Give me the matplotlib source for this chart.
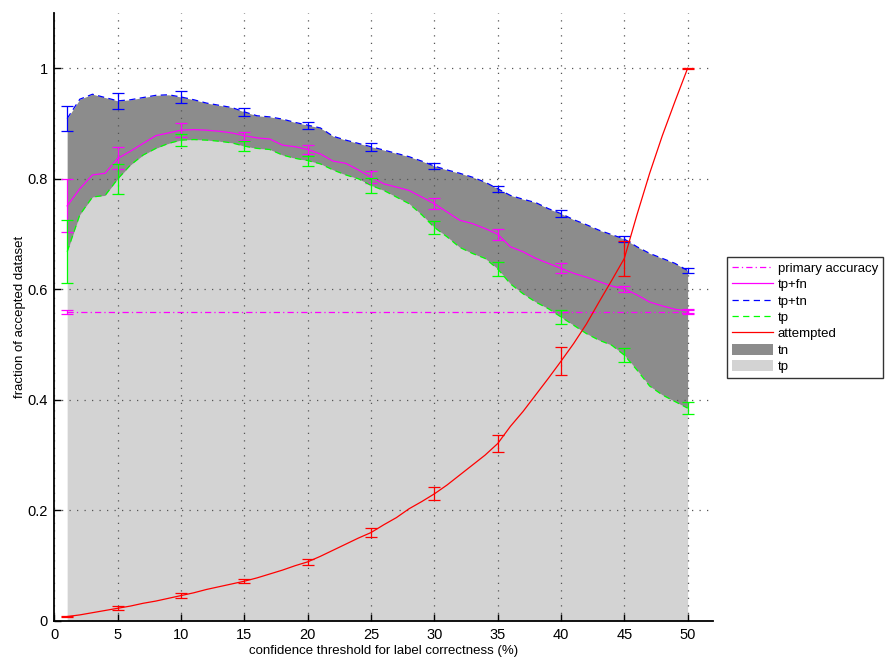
import numpy as np
import matplotlib
matplotlib.use("Agg")
import matplotlib.pyplot as plt
from matplotlib.lines import Line2D
from matplotlib.patches import Patch

plt.rcParams['font.family'] = ['Liberation Sans', 'DejaVu Sans']

# confidence threshold (%)
thresholds = np.arange(1, 51)

# tp+tn : upper edge of the tn band
tp_tn = [0.909, 0.944, 0.953, 0.947, 0.941, 0.943, 0.947, 0.951, 0.952, 0.948,
         0.943, 0.937, 0.933, 0.929, 0.921, 0.914, 0.912, 0.908, 0.902, 0.897,
         0.892, 0.877, 0.870, 0.864, 0.858, 0.852, 0.846, 0.840, 0.832, 0.823,
         0.816, 0.810, 0.803, 0.794, 0.782, 0.770, 0.763, 0.757, 0.746, 0.737,
         0.726, 0.717, 0.707, 0.699, 0.691, 0.677, 0.665, 0.656, 0.647, 0.634]

# tp : upper edge of the tp band
tp = [0.668, 0.735, 0.767, 0.770, 0.800, 0.825, 0.843, 0.855, 0.864, 0.870,
      0.871, 0.870, 0.868, 0.865, 0.859, 0.855, 0.853, 0.843, 0.837, 0.833,
      0.827, 0.816, 0.807, 0.800, 0.788, 0.779, 0.767, 0.755, 0.735, 0.712,
      0.695, 0.676, 0.665, 0.656, 0.637, 0.610, 0.592, 0.577, 0.565, 0.550,
      0.535, 0.520, 0.508, 0.499, 0.481, 0.454, 0.425, 0.409, 0.397, 0.385]

# tp+fn
tp_fn = [0.751, 0.782, 0.807, 0.810, 0.837, 0.850, 0.864, 0.878, 0.883, 0.888,
         0.889, 0.888, 0.886, 0.883, 0.878, 0.874, 0.872, 0.861, 0.858, 0.853,
         0.845, 0.832, 0.828, 0.816, 0.803, 0.791, 0.785, 0.779, 0.767, 0.755,
         0.740, 0.725, 0.719, 0.710, 0.700, 0.677, 0.668, 0.656, 0.647, 0.638,
         0.629, 0.622, 0.614, 0.606, 0.601, 0.590, 0.577, 0.570, 0.564, 0.561]

# fraction attempted
attempted = [0.008, 0.011, 0.015, 0.019, 0.023, 0.027, 0.032, 0.036, 0.041, 0.046,
             0.051, 0.057, 0.062, 0.067, 0.072, 0.078, 0.085, 0.092, 0.100, 0.107,
             0.117, 0.128, 0.139, 0.150, 0.160, 0.174, 0.187, 0.203, 0.216, 0.230,
             0.246, 0.264, 0.282, 0.300, 0.321, 0.352, 0.379, 0.409, 0.439, 0.470,
             0.502, 0.537, 0.577, 0.616, 0.656, 0.735, 0.810, 0.878, 0.940, 1.000]

primary_accuracy = 0.559
primary_err = 0.003

# error bars are drawn at these thresholds
err_x = [1, 5, 10, 15, 20, 25, 30, 35, 40, 45, 50]
err_tp_tn = [0.022, 0.014, 0.011, 0.007, 0.006, 0.0075, 0.006, 0.005, 0.007, 0.005, 0.004]
err_tp_fn = [0.048, 0.020, 0.013, 0.0075, 0.0075, 0.011, 0.010, 0.010, 0.009, 0.005, 0.004]
err_tp = [0.057, 0.027, 0.011, 0.009, 0.009, 0.0135, 0.011, 0.013, 0.0135, 0.0125, 0.011]
err_attempted = [0.001, 0.004, 0.0045, 0.004, 0.005, 0.0075, 0.012, 0.015, 0.025, 0.031, 0.001]

x_ticks = [0, 5, 10, 15, 20, 25, 30, 35, 40, 45, 50]
y_ticks = [0, 0.2, 0.4, 0.6, 0.8, 1.0]
y_tick_labels = ['0', '0.2', '0.4', '0.6', '0.8', '1']

MAGENTA = '#ff00ff'
BLUE = '#0000ff'
GREEN = '#00ff00'
RED = '#ff0000'
DARK = '#8c8c8c'
LIGHT = '#d3d3d3'

fig = plt.figure(figsize=(8.86, 6.59), dpi=100)
ax = fig.add_axes([0.0615, 0.0577, 0.7432, 0.9226])

x = thresholds
tp_a = np.array(tp)
tp_tn_a = np.array(tp_tn)

ax.fill_between(x, 0, tp_a, color=LIGHT, lw=0, zorder=1)
ax.fill_between(x, tp_a, tp_tn_a, color=DARK, lw=0, zorder=1)

# grid on top of the filled bands
ax.set_axisbelow(False)
ax.grid(True, linestyle=(0, (1, 5)), color='#555555', linewidth=0.9, zorder=2)
for gl in ax.get_xgridlines() + ax.get_ygridlines():
    gl.set_zorder(2)

lw = 0.9
dash = (0, (5, 3.5))
dashdot = (0, (5, 2.5, 1, 2.5))

idx = [xi - 1 for xi in err_x]


def vals_at(series):
    return [series[i] for i in idx]


ax.plot(x, np.full(len(x), primary_accuracy), color=MAGENTA, lw=lw, linestyle=dashdot, zorder=3)
ax.errorbar([1, 50], [primary_accuracy] * 2, yerr=primary_err, fmt='none', ecolor=MAGENTA,
            elinewidth=lw, capsize=4.5, capthick=lw, zorder=3)

ax.plot(x, tp_fn, color=MAGENTA, lw=lw, zorder=4)
ax.errorbar(err_x, vals_at(tp_fn), yerr=err_tp_fn, fmt='none', ecolor=MAGENTA,
            elinewidth=lw, capsize=4.5, capthick=lw, zorder=4)

ax.plot(x, tp_tn, color=BLUE, lw=lw, linestyle=dash, zorder=4)
ax.errorbar(err_x, vals_at(tp_tn), yerr=err_tp_tn, fmt='none', ecolor=BLUE,
            elinewidth=lw, capsize=4.5, capthick=lw, zorder=4)

ax.plot(x, tp, color=GREEN, lw=lw, linestyle=dash, zorder=4)
ax.errorbar(err_x, vals_at(tp), yerr=err_tp, fmt='none', ecolor=GREEN,
            elinewidth=lw, capsize=4.5, capthick=lw, zorder=4)

ax.plot(x, attempted, color=RED, lw=lw, zorder=5)
ax.errorbar(err_x, vals_at(attempted), yerr=err_attempted, fmt='none', ecolor=RED,
            elinewidth=lw, capsize=4.5, capthick=lw, zorder=5)

ax.set_xlim(0, 52)
ax.set_ylim(0, 1.1)
ax.set_xticks(x_ticks)
ax.set_yticks(y_ticks)
ax.set_yticklabels(y_tick_labels)
ax.tick_params(direction='in', length=5, width=1, labelsize=10.5, colors='black', pad=5)

for side in ('top', 'right'):
    ax.spines[side].set_visible(False)
for side in ('left', 'bottom'):
    ax.spines[side].set_linewidth(1.3)
    ax.spines[side].set_color('black')
    ax.spines[side].set_zorder(6)

ax.set_xlabel('confidence threshold for label correctness (%)', fontsize=9.5, labelpad=2)
ax.set_ylabel('fraction of accepted dataset', fontsize=9.5, labelpad=1)

handles = [
    Line2D([], [], color=MAGENTA, lw=lw, linestyle=dashdot),
    Line2D([], [], color=MAGENTA, lw=lw),
    Line2D([], [], color=BLUE, lw=lw, linestyle=dash),
    Line2D([], [], color=GREEN, lw=lw, linestyle=dash),
    Line2D([], [], color=RED, lw=lw),
    Patch(facecolor=DARK, edgecolor='none'),
    Patch(facecolor=LIGHT, edgecolor='none'),
]
labels = ['primary accuracy', 'tp+fn', 'tp+tn', 'tp', 'attempted', 'tn', 'tp']
leg = fig.legend(handles, labels, loc='upper left',
                 bbox_to_anchor=(727 / 886, 1 - 257 / 659),
                 fontsize=9.5, frameon=True, fancybox=False, shadow=False,
                 handlelength=3.1, handleheight=0.9, handletextpad=0.4, labelspacing=0.26,
                 borderpad=0.35, borderaxespad=0)
leg.get_frame().set_edgecolor('black')
leg.get_frame().set_linewidth(1.0)

fig.savefig('out.png', dpi=100)
